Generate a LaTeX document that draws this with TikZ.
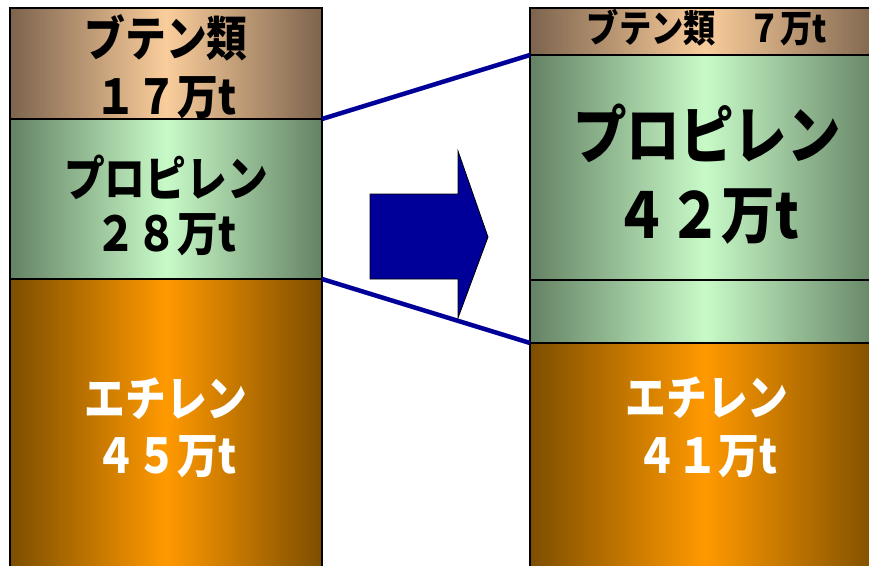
\documentclass[tikz,border=0pt]{standalone}
\usepackage{fontspec}
\newfontfamily\jp{Noto Sans CJK JP}[FakeStretch=0.85]
\definecolor{butedge}{RGB}{125, 100, 78}
\definecolor{butmid}{RGB}{250, 205, 155}
\definecolor{propedge}{RGB}{100, 130, 100}
\definecolor{propmid}{RGB}{200, 250, 200}
\definecolor{ethedge}{RGB}{125, 78, 0}
\definecolor{ethmid}{RGB}{255, 153, 0}
\definecolor{shiftblue}{RGB}{0, 0, 153}
\usetikzlibrary{positioning}

\begin{document}
\begin{tikzpicture}[x=1pt, y=-1pt,
  seg/.style={draw=black, line width=1.4pt, inner sep=0pt, outer sep=0pt},
  butene/.style={seg, left color=butedge, right color=butedge, middle color=butmid},
  propene/.style={seg, left color=propedge, right color=propedge, middle color=propmid},
  ethene/.style={seg, left color=ethedge, right color=ethedge, middle color=ethmid},
  lbl/.style 2 args={align=center, inner sep=0pt, font=\jp\bfseries\fontsize{#1}{#2}\selectfont},
  shiftline/.style={line width=4.5pt, shiftblue}]
  \clip (0,0) rectangle (869,565);

  % Before: left column
  \node[butene, minimum width=312pt, minimum height=111pt, anchor=north west] (lbut) at (10,8) {};
  \node[propene, minimum width=312pt, minimum height=160pt, below=0pt of lbut] (lprop) {};
  \node[ethene, minimum width=312pt, minimum height=301pt, below=0pt of lprop] (leth) {};

  % After: right column
  \node[butene, minimum width=350pt, minimum height=47pt, anchor=north west] (rbut) at (530,8) {};
  \node[propene, minimum width=350pt, minimum height=225pt, below=0pt of rbut] (rprop) {};
  \node[propene, minimum width=350pt, minimum height=63pt, below=0pt of rprop] (rgain) {};
  \node[ethene, minimum width=350pt, minimum height=237pt, below=0pt of rgain] (reth) {};

  % Labels
  \node[lbl={48}{58}] (lbuttxt) at (166,67) {ブテン類\\１７万t};
  \node[lbl={48}{55}] (lproptxt) at (166,205) {プロピレン\\２８万t};
  \node[lbl={48}{57}, white] (lethtxt) at (166,428) {エチレン\\４５万t};
  \node[lbl={38}{40}] (rbuttxt) at (707,28) {ブテン類　７万t};
  \node[lbl={63}{80}] (rproptxt) at (707,174) {プロピレン\\４２万t};
  \node[lbl={48}{58}, white] (rethtxt) at (707,427) {エチレン\\４１万t};

  % Connectors between the columns
  \draw[shiftline] (lbut.south east) -- (rbut.south west);
  \draw[shiftline] (lprop.south east) -- (rgain.south west);

  % Block arrow
  \filldraw[fill=shiftblue, draw=black, line width=0.8pt]
    (370,194) -- (458,194) -- (458,151) -- (488,237) -- (458,318) -- (458,279) -- (370,279) -- cycle;
\end{tikzpicture}
\end{document}
